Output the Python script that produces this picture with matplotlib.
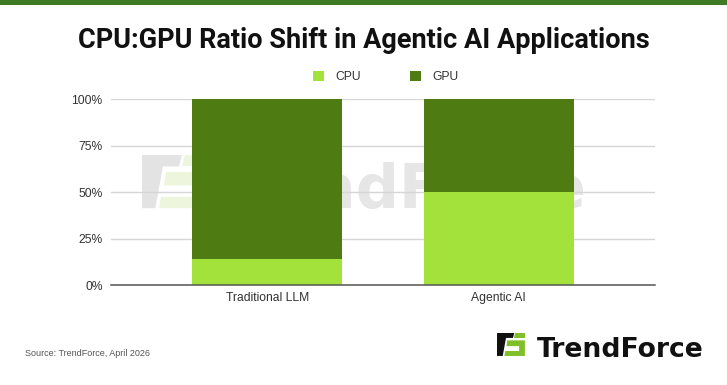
import matplotlib
matplotlib.use("Agg")
import matplotlib.pyplot as plt
from matplotlib.patches import Polygon, Rectangle

categories = ["Traditional LLM", "Agentic AI"]
cpu = [14, 50]
gpu = [86, 50]
series_names = ["CPU", "GPU"]
yticks = [0, 25, 50, 75, 100]
ytick_labels = ["0%", "25%", "50%", "75%", "100%"]

CPU_C = "#a3e23a"
GPU_C = "#4e7c12"
W, H = 727, 385

fig = plt.figure(figsize=(W / 100, H / 100), dpi=100)
fig.patch.set_facecolor("white")


def fp(x, y):
    return (x / W, 1 - y / H)


# top stripe
fig.add_artist(Rectangle(fp(0, 5), 1, 5 / H, transform=fig.transFigure,
                         color="#3f7a25", lw=0))

fig.text(0.5, 1 - 40 / H, "CPU:GPU Ratio Shift in Agentic AI Applications",
         ha="center", va="center", fontsize=19.5, fontweight="bold",
         family=["Liberation Sans Narrow", "Roboto", "DejaVu Sans"], color="#111111")


def logo_icon(x0, y0, s, dark, light, z=1):
    black = [(0, 0), (21, 0), (19.5, 6), (11, 6), (7, 28), (0, 28), (0, 6)]
    g_top = [(22.5, 0), (34, 0), (34, 6), (21, 6)]
    g_mid = [(12.5, 9), (34, 9), (34, 28), (9, 28), (10, 22), (27, 22), (27, 16), (11.5, 16)]
    for pts, c in [(black, dark), (g_top, light), (g_mid, light)]:
        fig.add_artist(Polygon([fp(x0 + s * px, y0 + s * py) for px, py in pts],
                               closed=True, transform=fig.transFigure,
                               facecolor=c, edgecolor="none", zorder=z))


ax = fig.add_axes([111 / W, 1 - 285.3 / H, 544 / W, 186 / H])
ax.set_zorder(2)
ax.patch.set_alpha(0)

x = range(len(categories))
ax.bar(x, cpu, width=0.648, color=CPU_C, label=series_names[0], zorder=3)
ax.bar(x, gpu, bottom=cpu, width=0.648, color=GPU_C, label=series_names[1], zorder=3)

ax.set_xlim(-0.675, 1.675)
ax.set_ylim(0, 100)
ax.set_yticks(yticks)
ax.set_yticklabels(ytick_labels)
ax.set_xticks(list(x))
ax.set_xticklabels(categories)
ax.yaxis.grid(True, color="#d6d6d6", lw=1, zorder=0)
ax.set_axisbelow(True)
for s in ["top", "right", "left"]:
    ax.spines[s].set_visible(False)
ax.spines["bottom"].set_color("#555555")
ax.spines["bottom"].set_linewidth(1.1)
ax.spines["bottom"].set_zorder(4)
ax.tick_params(axis="both", length=0, labelsize=8.7, labelcolor="#333333",
               labelfontfamily="Liberation Sans")
ax.tick_params(axis="y", pad=6)
ax.tick_params(axis="x", pad=5)

leg = ax.legend(loc="center", bbox_to_anchor=(0.505, 1 + (285.3 - 77) / 186 - 1),
                ncol=2, frameon=False, handlelength=0.9, handleheight=0.9,
                columnspacing=4.1, handletextpad=0.9,
                prop={"family": "Liberation Sans", "size": 8.7})
for t in leg.get_texts():
    t.set_color("#333333")

# watermark (behind chart)
logo_icon(142, 155, 1.9, "#e3e3e3", "#eef5dd", z=0)
fig.text(208 / W, 1 - 208 / H, "TrendForce", fontsize=43.5, fontweight="bold",
         family=["DejaVu Sans"], color="#e6e6e6", ha="left",
         va="baseline", zorder=0)

# footer
fig.text(25 / W, 1 - 354 / H, "Source: TrendForce, April 2026", fontsize=6.5,
         family=["Liberation Sans Narrow", "Liberation Sans"], color="#555555",
         ha="left", va="center")
logo_icon(497, 333, 0.82, "#111111", "#7fbf2a", z=5)
fig.text(537 / W, 1 - 357 / H, "TrendForce", fontsize=19.2, fontweight="bold",
         family=["DejaVu Sans"], color="#111111", ha="left", va="baseline")

fig.savefig("out.png", dpi=100, facecolor="white")
